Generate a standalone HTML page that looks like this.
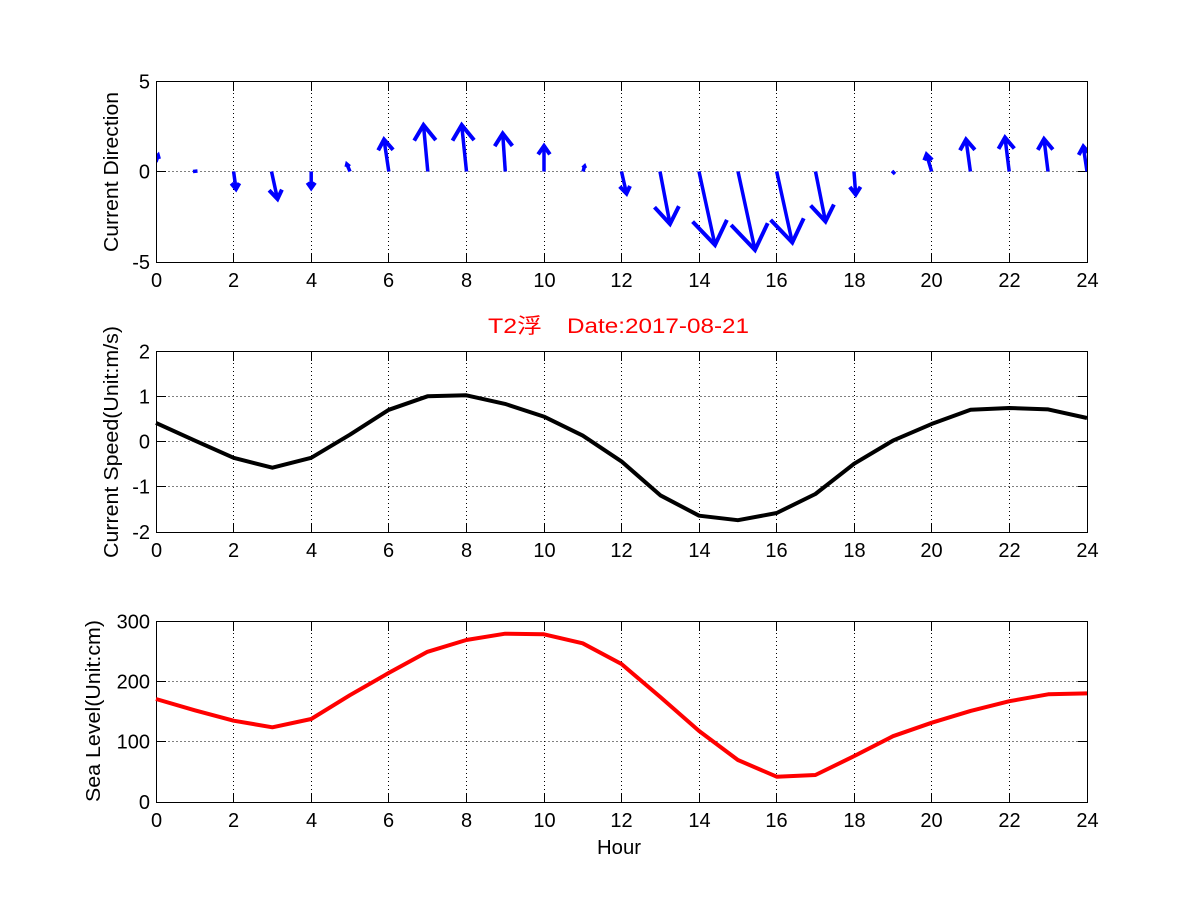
<!DOCTYPE html>
<html>
<head>
<meta charset="utf-8">
<style>
  html, body { margin: 0; padding: 0; background: #ffffff; }
  body { width: 1201px; height: 901px; overflow: hidden; }
  svg { display: block; }
  text { font-family: "Liberation Sans", "Noto Sans CJK SC", "WenQuanYi Zen Hei", sans-serif; fill: #000; }
</style>
</head>
<body>
<svg width="1201" height="901" viewBox="0 0 1201 901" xmlns="http://www.w3.org/2000/svg">
  <rect x="0" y="0" width="1201" height="901" fill="#ffffff"/>
  <defs>
    <g id="frame">
      <g stroke="#000" stroke-width="1" stroke-dasharray="1 3" fill="none">
        <line x1="233.5" y1="0" x2="233.5" y2="181"/>
        <line x1="311.5" y1="0" x2="311.5" y2="181"/>
        <line x1="388.5" y1="0" x2="388.5" y2="181"/>
        <line x1="466.5" y1="0" x2="466.5" y2="181"/>
        <line x1="544.5" y1="0" x2="544.5" y2="181"/>
        <line x1="621.5" y1="0" x2="621.5" y2="181"/>
        <line x1="699.5" y1="0" x2="699.5" y2="181"/>
        <line x1="776.5" y1="0" x2="776.5" y2="181"/>
        <line x1="854.5" y1="0" x2="854.5" y2="181"/>
        <line x1="931.5" y1="0" x2="931.5" y2="181"/>
        <line x1="1009.5" y1="0" x2="1009.5" y2="181"/>
      </g>
      <g stroke="#000" stroke-width="1" fill="none">
        <path d="M233.5 181.5V172M311.5 181.5V172M388.5 181.5V172M466.5 181.5V172M544.5 181.5V172M621.5 181.5V172M699.5 181.5V172M776.5 181.5V172M854.5 181.5V172M931.5 181.5V172M1009.5 181.5V172"/>
        <path d="M233.5 0.5V10M311.5 0.5V10M388.5 0.5V10M466.5 0.5V10M544.5 0.5V10M621.5 0.5V10M699.5 0.5V10M776.5 0.5V10M854.5 0.5V10M931.5 0.5V10M1009.5 0.5V10"/>
        <rect x="156.5" y="0.5" width="931" height="181"/>
      </g>
      <g font-size="20" text-anchor="middle">
        <text x="156.5" y="206">0</text>
        <text x="233.5" y="206">2</text>
        <text x="311.5" y="206">4</text>
        <text x="388.5" y="206">6</text>
        <text x="466.5" y="206">8</text>
        <text x="544.5" y="206">10</text>
        <text x="621.5" y="206">12</text>
        <text x="699.5" y="206">14</text>
        <text x="776.5" y="206">16</text>
        <text x="854.5" y="206">18</text>
        <text x="931.5" y="206">20</text>
        <text x="1009.5" y="206">22</text>
        <text x="1087.5" y="206">24</text>
      </g>
    </g>
    <clipPath id="clipTop">
      <rect x="156.5" y="81.5" width="931" height="181"/>
    </clipPath>
  </defs>

  <!-- TOP AXES: Current Direction -->
  <use href="#frame" transform="translate(0,81)"/>
  <line x1="156.5" y1="171.5" x2="1087.5" y2="171.5" stroke="#000" stroke-width="1" stroke-dasharray="1 3"/>
  <path d="M156.5 171.5H166M1087.5 171.5H1078" stroke="#000" stroke-width="1"/>
  <g font-size="20" text-anchor="end">
    <text x="150" y="88.5">5</text>
    <text x="150" y="178.5">0</text>
    <text x="150" y="269">-5</text>
  </g>
  <text font-size="20" text-anchor="middle" textLength="160" lengthAdjust="spacingAndGlyphs" transform="translate(118,172) rotate(-90)">Current Direction</text>

  <g clip-path="url(#clipTop)" stroke="#0000ff" fill="none" stroke-linejoin="miter" stroke-linecap="butt">
    <g stroke-width="3.5">
      <path d="M156 162 L158 156"/>
      <path d="M193 171.5 L197.5 171"/>
      <path d="M233.6 171.5 L236 189"/>
      <path d="M271.5 171.5 L277.5 199"/>
      <path d="M311.2 171.5 L311.2 188"/>
      <path d="M350 171.5 L347 164.5"/>
      <path d="M388.8 171.5 L384 139.5"/>
      <path d="M427.8 171.5 L423.5 125"/>
      <path d="M466.5 171.5 L461.7 125"/>
      <path d="M505.3 171.5 L502.7 133.5"/>
      <path d="M544 171.5 L544 146"/>
      <path d="M583 171.5 L584.5 166.5"/>
      <path d="M621.5 171.5 L626.5 193.5"/>
      <path d="M660 171.5 L670 224"/>
      <path d="M699 171.5 L715 245"/>
      <path d="M738 171.5 L755 250"/>
      <path d="M776.7 171.5 L792.3 242.5"/>
      <path d="M815.5 171.5 L825.5 221.5"/>
      <path d="M854 171.5 L855.7 194.5"/>
      <path d="M892 171 L895 174"/>
      <path d="M931.6 171.5 L926.6 154.5"/>
      <path d="M970.4 171.5 L966 139.5"/>
      <path d="M1009.2 171.5 L1005 137.5"/>
      <path d="M1048 171.5 L1044 139"/>
      <path d="M1087 171.5 L1083.3 146.5"/>
    </g>
    <g stroke-width="4">
      <path d="M155.5 158 L158 155.5 L159 159"/>
      <path d="M239.4 183.1 L236 189 L231.3 183.3"/>
      <path d="M281.9 189.6 L277.5 199 L269.1 190.2"/>
      <path d="M315 182.6 L311.2 188 L307.4 182.6"/>
      <path d="M346.4 167 L347 164.5 L349.6 166.7"/>
      <path d="M378.2 150.3 L384 139.5 L393.1 149.8"/>
      <path d="M414.2 140.6 L423.5 125 L435.8 140.1"/>
      <path d="M452.5 140.6 L461.7 125 L474.1 140.1"/>
      <path d="M494.7 146.2 L502.7 133.5 L512.4 145.9"/>
      <path d="M538.1 154.4 L544 146 L549.9 154.4"/>
      <path d="M582.8 168.1 L584.5 166.5 L585.2 168.2"/>
      <path d="M630 186 L626.5 193.5 L619.7 186.5"/>
      <path d="M678.9 206.2 L670 224 L654.5 207.2"/>
      <path d="M726.9 219.9 L715 245 L692.6 221.6"/>
      <path d="M767.7 223.2 L755 250 L731.1 225"/>
      <path d="M803.7 218.3 L792.3 242.5 L770.6 219.9"/>
      <path d="M833.9 204.5 L825.5 221.5 L810.6 205.5"/>
      <path d="M860.5 186.8 L855.7 194.5 L849.8 187"/>
      <path d="M924.3 160.4 L926.6 154.5 L932.2 159.9"/>
      <path d="M960 150.3 L966 139.5 L974.9 149.8"/>
      <path d="M998.5 148.9 L1005 137.5 L1014.3 148.5"/>
      <path d="M1037.8 149.9 L1044 139 L1052.9 149.5"/>
      <path d="M1078.7 154.9 L1083.3 146.5 L1090.4 154.6"/>
    </g>
  </g>
  <rect x="156.5" y="81.5" width="931" height="181" fill="none" stroke="#000" stroke-width="1"/>

  <!-- TITLE -->
  <text x="488" y="333" font-size="21" style="fill:#ff0000" textLength="54" lengthAdjust="spacingAndGlyphs">T2浮</text>
  <text x="567" y="333" font-size="21" style="fill:#ff0000" textLength="182" lengthAdjust="spacingAndGlyphs">Date:2017-08-21</text>

  <!-- MIDDLE AXES: Current Speed -->
  <use href="#frame" transform="translate(0,351)"/>
  <g stroke="#000" stroke-width="1" stroke-dasharray="1 3">
    <line x1="156.5" y1="396.5" x2="1087.5" y2="396.5"/>
    <line x1="156.5" y1="441.5" x2="1087.5" y2="441.5"/>
    <line x1="156.5" y1="486.5" x2="1087.5" y2="486.5"/>
  </g>
  <path d="M156.5 396.5H166M156.5 441.5H166M156.5 486.5H166M1087.5 396.5H1078M1087.5 441.5H1078M1087.5 486.5H1078" stroke="#000" stroke-width="1"/>
  <g font-size="20" text-anchor="end">
    <text x="150" y="358.5">2</text>
    <text x="150" y="403.5">1</text>
    <text x="150" y="448.5">0</text>
    <text x="150" y="493.5">-1</text>
    <text x="150" y="539">-2</text>
  </g>
  <text font-size="20" text-anchor="middle" textLength="232" lengthAdjust="spacingAndGlyphs" transform="translate(118,442) rotate(-90)">Current Speed(Unit:m/s)</text>
  <polyline fill="none" stroke="#000" stroke-width="4" stroke-linejoin="round"
    points="156,422.9 194.8,440.6 233.6,457.8 272.4,467.7 311.2,457.8 349.9,434.7 388.8,409.8 427.5,396.3 466.3,395.3 505.1,403.9 543.9,416.6 582.7,435.6 621.5,461.4 660.3,495.3 699.1,515.7 737.9,520.2 776.7,513 815.4,494 854.2,463.7 893,440.6 931.8,423.9 970.6,409.8 1009.4,408 1048.2,409.4 1087,418"/>

  <!-- BOTTOM AXES: Sea Level -->
  <use href="#frame" transform="translate(0,621)"/>
  <g stroke="#000" stroke-width="1" stroke-dasharray="1 3">
    <line x1="156.5" y1="681.5" x2="1087.5" y2="681.5"/>
    <line x1="156.5" y1="741.5" x2="1087.5" y2="741.5"/>
  </g>
  <path d="M156.5 681.5H166M156.5 741.5H166M1087.5 681.5H1078M1087.5 741.5H1078" stroke="#000" stroke-width="1"/>
  <g font-size="20" text-anchor="end">
    <text x="150" y="628.5">300</text>
    <text x="150" y="688.5">200</text>
    <text x="150" y="748.5">100</text>
    <text x="150" y="809">0</text>
  </g>
  <text font-size="20" text-anchor="middle" textLength="182" lengthAdjust="spacingAndGlyphs" transform="translate(100,711) rotate(-90)">Sea Level(Unit:cm)</text>
  <polyline fill="none" stroke="#ff0000" stroke-width="4" stroke-linejoin="round"
    points="156,699 194.8,710.3 233.6,720.7 272.4,727.3 311.2,719 349.9,695.2 388.8,672.9 427.5,651.8 466.3,640 505.1,633.7 543.9,634.3 582.7,643.3 621.5,664 660.3,697 699.1,731 737.9,760 776.7,776.7 815.4,775 854.2,756.1 893,736.2 931.8,722.7 970.6,710.9 1009.4,701.2 1048.2,694.3 1087,693.4"/>

  <text x="619" y="854" font-size="20" text-anchor="middle" textLength="44" lengthAdjust="spacingAndGlyphs">Hour</text>
</svg>
</body>
</html>
